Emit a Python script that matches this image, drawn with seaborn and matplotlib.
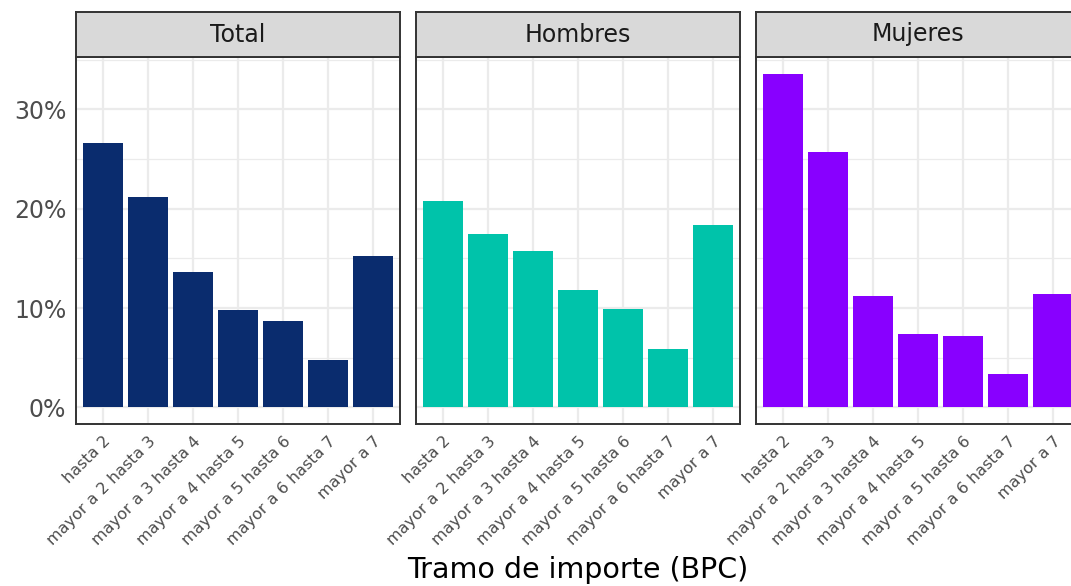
import pandas as pd
import seaborn as sns
import matplotlib.pyplot as plt
from matplotlib.ticker import MultipleLocator, FuncFormatter

sns.set_style('white')
plt.rcParams['font.family'] = ['DejaVu Sans']

tramos = ['hasta 2', 'mayor a 2 hasta 3', 'mayor a 3 hasta 4', 'mayor a 4 hasta 5',
          'mayor a 5 hasta 6', 'mayor a 6 hasta 7', 'mayor a 7']
paneles = ['Total', 'Hombres', 'Mujeres']
total = [26.6, 21.2, 13.6, 9.8, 8.7, 4.8, 15.2]
hombres = [20.8, 17.5, 15.7, 11.8, 9.9, 5.9, 18.4]
mujeres = [33.6, 25.7, 11.2, 7.4, 7.2, 3.4, 11.4]
colores = ['#0A2C6E', '#00C3AA', '#8800FF']

df = pd.DataFrame({
    'tramo': tramos * 3,
    'grupo': [p for p in paneles for _ in tramos],
    'pct': [v / 100 for v in total + hombres + mujeres],
})

W, H = 1071, 586
fig = plt.figure(figsize=(W / 100, H / 100), dpi=100)

ymax = df['pct'].max()
pad = ymax * 0.05
lefts = [76, 416, 756]
pw = 324
top, bottom, strip_top = 57, 424, 12
edge = '#333333'

for i, (grupo, col) in enumerate(zip(paneles, colores)):
    ax = fig.add_axes([lefts[i] / W, (H - bottom) / H, pw / W, (bottom - top) / H])
    sub = df[df['grupo'] == grupo]
    sns.barplot(data=sub, x='tramo', y='pct', order=tramos, color=col,
                saturation=1, width=0.9, linewidth=0, ax=ax, zorder=3)
    ax.set_xlim(-0.6, 6.6)
    ax.set_ylim(-pad, ymax + pad)
    ax.yaxis.set_major_locator(MultipleLocator(0.1))
    ax.yaxis.set_minor_locator(MultipleLocator(0.05))
    ax.yaxis.set_major_formatter(FuncFormatter(lambda v, p: f'{v * 100:.0f}%'))
    ax.grid(which='major', color='#EBEBEB', linewidth=1.6, zorder=0)
    ax.grid(which='minor', axis='y', color='#EBEBEB', linewidth=0.9, zorder=0)
    ax.set_axisbelow(True)
    for s in ax.spines.values():
        s.set_color(edge)
        s.set_linewidth(1.4)
    ax.set_xlabel('')
    ax.set_ylabel('')
    ax.tick_params(axis='x', length=4, width=1.4, color=edge, labelsize=11.5,
                   labelcolor='#4D4D4D', pad=3)
    ax.tick_params(axis='y', which='major', length=4, width=1.4, color=edge,
                   labelsize=17, labelcolor='#4D4D4D', pad=3)
    ax.tick_params(axis='y', which='minor', length=0)
    plt.setp(ax.get_xticklabels(), rotation=45, ha='right', rotation_mode='anchor')
    if i > 0:
        ax.tick_params(axis='y', which='both', left=False, labelleft=False)

    st = fig.add_axes([lefts[i] / W, (H - top) / H, pw / W, (top - strip_top) / H])
    st.set_facecolor('#D9D9D9')
    st.set_xticks([])
    st.set_yticks([])
    for s in st.spines.values():
        s.set_color(edge)
        s.set_linewidth(1.4)
    st.text(0.5, 0.5, grupo, ha='center', va='center', fontsize=17,
            color='#1A1A1A', transform=st.transAxes)

fig.text(578 / W, 2 / H, 'Tramo de importe (BPC)', ha='center', va='bottom',
         fontsize=20.5, color='black')

plt.savefig('out.png', dpi=100)
